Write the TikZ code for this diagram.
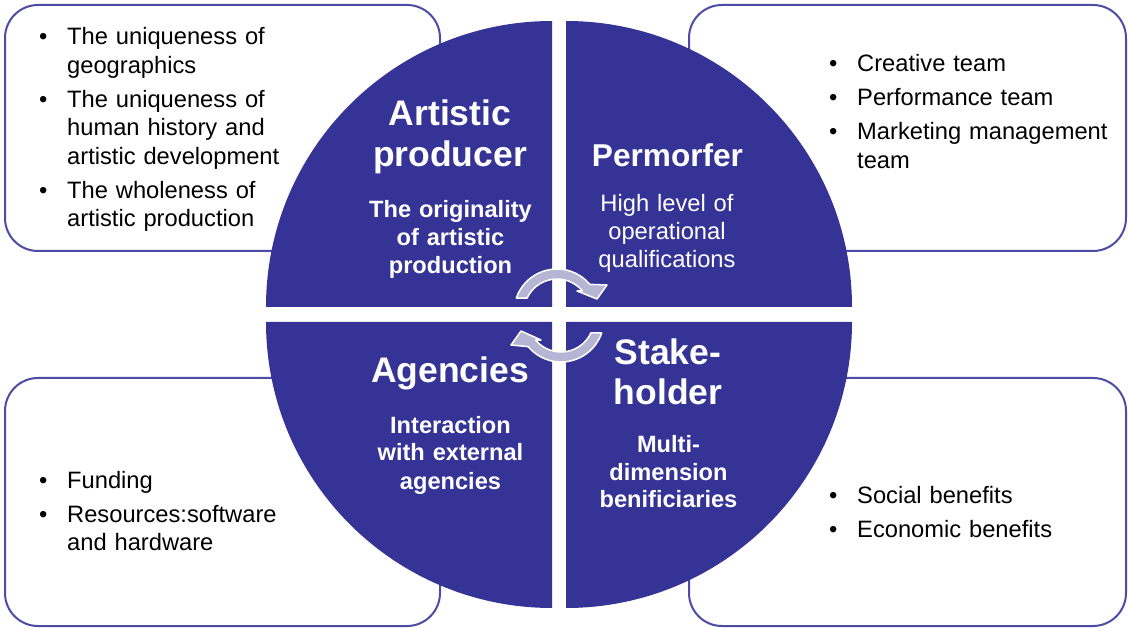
\documentclass[tikz,border=0pt]{standalone}
\usepackage{fontspec}
\setmainfont{Liberation Sans}
\definecolor{disc}{RGB}{53,52,150}
\definecolor{panelline}{RGB}{76,76,164}
\definecolor{arrowfill}{RGB}{182,182,212}
% type sizes (1pt = one unit of the drawing grid)
\newcommand\quadtitle{\fontsize{35.5}{41}\selectfont\bfseries}
\newcommand\quadtitlesmall{\fontsize{31.6}{36}\selectfont\bfseries}
\newcommand\quadsub{\fontsize{23.6}{28}\selectfont\bfseries}
\newcommand\quadsubreg{\fontsize{23.7}{28}\selectfont}
\newcommand\panelfont{\fontsize{23.7}{28.5}\selectfont}
% bulleted entries with a hanging indent
\newcommand\panelhang{\hangindent=28pt\hangafter=1\noindent\makebox[28pt][l]{\textbullet}}
\newcommand\panelfirst[1]{\panelhang#1}
\newcommand\panelitem[1]{\par\parskip=5.5pt\relax\panelhang#1}
\begin{document}
\begin{tikzpicture}[x=1pt,y=-1pt,
  panel/.style={draw=panelline, line width=2pt, rounded corners=33pt, fill=white},
  quadrant/.style={fill=disc},
  cyclearrow/.style={fill=arrowfill, draw=white, line width=1.5pt, line join=round},
  headline/.style={text=white, inner sep=0pt, text width=260pt, align=center, anchor=base, font=\quadtitle},
  subline/.style={text=white, inner sep=0pt, text width=260pt, align=center, anchor=base, font=\quadsub},
  listbox/.style={inner sep=0pt, text width=390pt, align=left, anchor=base west, font=\panelfont}]
\useasboundingbox (0,0) rectangle (1128,628);
\fill[white] (0,0) rectangle (1128,628);

% outer panels
\draw[panel] (5,5) rectangle (440,251);
\draw[panel] (689,5) rectangle (1126,251);
\draw[panel] (5,378) rectangle (440,626);
\draw[panel] (689,378) rectangle (1126,626);

% the four quarter discs
\fill[quadrant] (552,307) -- (266,307) arc[start angle=180, end angle=270, radius=286] -- cycle;
\fill[quadrant] (566,307) -- (566,21) arc[start angle=270, end angle=360, radius=286] -- cycle;
\fill[quadrant] (552,322) -- (552,608) arc[start angle=90, end angle=180, radius=286] -- cycle;
\fill[quadrant] (566,322) -- (852,322) arc[start angle=0, end angle=90, radius=286] -- cycle;

% circular arrows in the middle
\filldraw[cyclearrow] (516.3,298.0) arc[start angle=199, end angle=320, radius=43]
  -- (607,285) -- (597,299) -- (577,291) -- (582.3,290.8)
  arc[start angle=320, end angle=205, radius=33] -- cycle;
\filldraw[cyclearrow] (601.7,333.0) arc[start angle=19, end angle=140, radius=43]
  -- (511,345) -- (521,331) -- (541,340) -- (535.7,340.2)
  arc[start angle=140, end angle=25, radius=33] -- cycle;

% quadrant headings
\node[headline] (producerHead) at (450,126) {Artistic\\producer};
\node[subline] (producerSub) at (450.5,218) {The originality\\of artistic\\production};
\node[headline, font=\quadtitlesmall] (performerHead) at (667.5,167) {Permorfer};
\node[subline, font=\quadsubreg] (performerSub) at (667,212) {High level of\\operational\\qualifications};
\node[headline] (agencyHead) at (450,383) {Agencies};
\node[subline] (agencySub) at (450.5,433) {Interaction\\with external\\agencies};
\node[headline, font=\fontsize{35.5}{40}\selectfont\bfseries] (stakeHead) at (668,365) {Stake-\\holder};
\node[subline, font=\fontsize{23.6}{27.5}\selectfont\bfseries] (stakeSub) at (668.5,453) {Multi-\\dimension\\benificiaries};

% panel lists
\node[listbox] (producerList) at (39,45) {\panelfirst{The uniqueness of\newline geographics}\panelitem{The uniqueness of\newline human history and\newline artistic development}\panelitem{The wholeness of\newline artistic production}\par};
\node[listbox] (performerList) at (829,72) {\panelfirst{Creative team}\panelitem{Performance team}\panelitem{Marketing management\newline team}\par};
\node[listbox] (agencyList) at (39,488) {\panelfirst{Funding}\panelitem{Resources:software\newline and hardware}\par};
\node[listbox] (stakeList) at (829,503) {\panelfirst{Social benefits}\panelitem{Economic benefits}\par};
\end{tikzpicture}
\end{document}
